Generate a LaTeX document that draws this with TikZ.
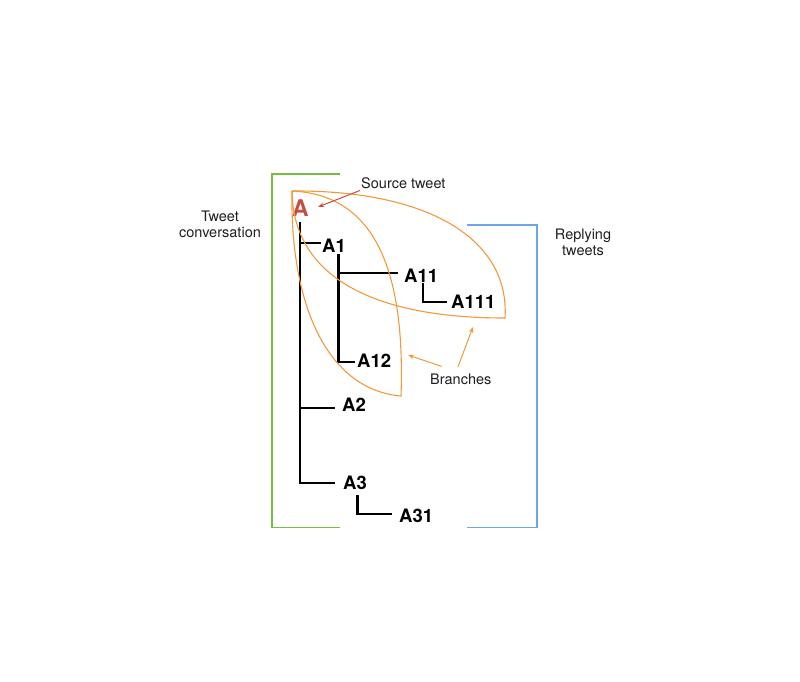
\documentclass[tikz,border=0pt]{standalone}
\usepackage{fontspec}
\setmainfont{TeX Gyre Heros}
\usetikzlibrary{arrows.meta}
\definecolor{lensorange}{RGB}{242,153,60}
\definecolor{srcred}{RGB}{196,78,64}
\definecolor{brgreen}{RGB}{118,190,66}
\definecolor{brblue}{RGB}{110,165,235}
\definecolor{txt}{RGB}{30,30,30}
\begin{document}
\begin{tikzpicture}[x=1pt,y=-1pt,
  lbl/.style={anchor=base west, inner sep=0pt, font=\bfseries\fontsize{18.5}{18.5}\selectfont},
  note/.style={inner sep=0pt, text=txt, font=\fontsize{14.5}{16}\selectfont, align=center},
  treeline/.style={line width=2.4pt, line cap=butt, line join=miter},
  lens/.style={draw=lensorange, line width=1.1pt},
  bracket/.style={line width=1.4pt},
  pointer/.style={line width=1pt, -{Stealth[length=6pt,width=4.5pt]}}]
\useasboundingbox (0,0) rectangle (800,682);

% brackets
\draw[bracket, brgreen] (340,174) -- (272,174) -- (272,527.5) -- (340,527.5);
\draw[bracket, brblue] (467,225) -- (537,225) -- (537,527.5) -- (467,527.5);

% labels
\node[lbl, text=srcred, font=\bfseries\fontsize{23}{23}\selectfont] (A) at (292,216) {A};
\node[lbl] (A1) at (322,252) {A1};
\node[lbl] (A11) at (404,282) {A11};
\node[lbl] (A111) at (451,308.5) {A111};
\node[lbl] (A12) at (357,367.5) {A12};
\node[lbl] (A2) at (342,411) {A2};
\node[lbl] (A3) at (343,489) {A3};
\node[lbl] (A31) at (399,522) {A31};

% tree coordinates
\coordinate (t0) at (300,222);
\coordinate (j1) at (300,243);
\coordinate (e1) at (321,243);
\coordinate (j2) at (300,408);
\coordinate (e2) at (335,408);
\coordinate (j3) at (300,483);
\coordinate (e3) at (335,483);
\coordinate (a1top) at (338.5,254);
\coordinate (a11j) at (338.5,273);
\coordinate (a11e) at (398,273);
\coordinate (a12c) at (338.5,362);
\coordinate (a12e) at (355,362);
\coordinate (a111top) at (422.7,283);
\coordinate (a111c) at (422.7,302);
\coordinate (a111e) at (446.7,302);
\coordinate (a31top) at (357.3,495);
\coordinate (a31c) at (357.3,514);
\coordinate (a31e) at (391.7,514);

\draw[treeline] (t0) -- (j3) -- (e3);
\draw[treeline] (j1) -- (e1);
\draw[treeline] (j2) -- (e2);
\draw[treeline] (a1top) -- (a12c) -- (a12e);
\draw[treeline] (a11j) -- (a11e);
\draw[treeline] (a111top) -- (a111c) -- (a111e);
\draw[treeline] (a31top) -- (a31c) -- (a31e);

% lenses
\coordinate (tip) at (292,191);
\coordinate (vtip) at (401,396);
\coordinate (htip) at (505,318);
\draw[lens] (tip) .. controls (380,195) and (405,280) .. (vtip)
  .. controls (330,390) and (290,310) .. (tip);
\draw[lens] (tip) .. controls (430,190) and (510,240) .. (htip)
  .. controls (370,318) and (293,275) .. (tip);

% notes
\node[note, anchor=base west] (src) at (361,188) {Source tweet};
\node[note, anchor=base] (conv) at (220,237.7) {Tweet\\conversation};
\node[note, anchor=base] (rep) at (583,255) {Replying\\tweets};
\node[note, anchor=base west] (br) at (430,384) {Branches};

% pointers
\coordinate (srcTip) at (318,207);
\coordinate (brTip1) at (408,355);
\coordinate (brTip2) at (473,327);
\draw[pointer, srcred] ([shift={(-1,2)}]src.south west) -- (srcTip);
\draw[pointer, lensorange] ([shift={(11.7,-6.8)}]br.north west) -- (brTip1);
\draw[pointer, lensorange] ([shift={(28,-6.5)}]br.north west) -- (brTip2);
\end{tikzpicture}
\end{document}
